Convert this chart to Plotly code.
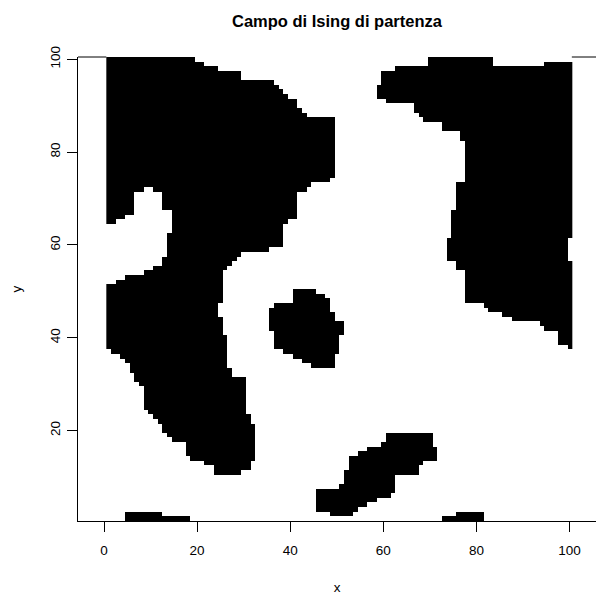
import numpy as np
import plotly.graph_objects as go

# Starting Ising configuration on a 100 x 100 lattice (+1 = black, -1 = white).
# Every cluster of +1 spins is listed as horizontal bands:
# (y_top, y_bottom, x_first, x_last), all inclusive lattice indices.
N_SIDE = 100

left_cluster = [
    (100, 100, 1, 19), (99, 99, 1, 21), (98, 98, 1, 24), (97, 96, 1, 29),
    (95, 95, 1, 36), (94, 94, 1, 37), (93, 93, 1, 38), (92, 92, 1, 39),
    (91, 90, 1, 41), (89, 89, 1, 42), (88, 88, 1, 43), (87, 75, 1, 49),
    (74, 74, 1, 48), (73, 73, 1, 44),
    (72, 72, 1, 8), (72, 72, 11, 43),
    (71, 68, 1, 6), (71, 68, 13, 41),
    (67, 67, 1, 6), (67, 67, 15, 41),
    (66, 66, 1, 4), (66, 66, 15, 41),
    (65, 65, 1, 2), (65, 65, 15, 39),
    (64, 63, 15, 38), (62, 60, 14, 38), (59, 59, 14, 35), (58, 58, 14, 29),
    (57, 57, 13, 28), (56, 56, 13, 27), (55, 55, 11, 26), (54, 54, 9, 25),
    (53, 53, 5, 25), (52, 52, 3, 25), (51, 48, 1, 25), (47, 45, 1, 24),
    (44, 41, 1, 25), (40, 38, 1, 26), (37, 37, 2, 26), (36, 36, 4, 26),
    (35, 35, 5, 26), (34, 34, 6, 26), (33, 33, 6, 27), (32, 32, 7, 27),
    (31, 31, 7, 30), (30, 30, 8, 30), (29, 25, 9, 30), (24, 24, 10, 30),
    (23, 23, 11, 31), (22, 22, 12, 31), (21, 20, 13, 32), (19, 19, 14, 32),
    (18, 18, 15, 32), (17, 15, 18, 32), (14, 14, 19, 32), (13, 13, 22, 31),
    (12, 12, 24, 31), (11, 11, 24, 29),
]

right_cluster = [
    (100, 100, 70, 83), (99, 99, 70, 83), (99, 99, 95, 100),
    (98, 98, 63, 100), (97, 95, 60, 100), (94, 92, 59, 100),
    (91, 91, 61, 100), (90, 89, 67, 100), (88, 88, 68, 100),
    (87, 87, 69, 100), (86, 85, 73, 100), (84, 83, 77, 100),
    (82, 74, 78, 100), (73, 68, 76, 100), (67, 62, 75, 100),
    (61, 57, 74, 99), (56, 55, 76, 100), (54, 48, 78, 100),
    (47, 47, 82, 100), (46, 46, 83, 100), (45, 45, 86, 100),
    (44, 44, 88, 100), (43, 43, 94, 100), (42, 42, 95, 100),
    (41, 39, 98, 100), (38, 38, 100, 100),
]

centre_cluster = [
    (50, 50, 41, 45), (49, 49, 41, 47), (48, 48, 41, 48), (47, 47, 37, 48),
    (46, 46, 36, 48), (45, 44, 36, 49), (43, 42, 36, 51), (41, 41, 37, 51),
    (40, 38, 37, 50), (37, 37, 39, 50), (36, 36, 41, 49), (35, 35, 43, 49),
    (34, 34, 45, 49),
]

lower_cluster = [
    (19, 18, 61, 70), (17, 17, 60, 70), (16, 16, 57, 71), (15, 15, 55, 71),
    (14, 14, 53, 71), (13, 13, 53, 68), (12, 12, 53, 67), (11, 11, 52, 67),
    (10, 9, 52, 62), (8, 8, 51, 62), (7, 7, 46, 62), (6, 6, 46, 61),
    (5, 5, 46, 58), (4, 4, 46, 56), (3, 3, 46, 54), (2, 2, 49, 53),
]

bottom_edge_bits = [
    (2, 2, 5, 12), (1, 1, 5, 18),
    (2, 2, 76, 81), (1, 1, 73, 81),
]

x_ticks = [0, 20, 40, 60, 80, 100]
y_ticks = [20, 40, 60, 80, 100]

# Build the spin matrix (rows follow y, columns follow x)
lattice = np.arange(1, N_SIDE + 1)
spin = -np.ones((N_SIDE, N_SIDE), dtype=int)
for y_top, y_bot, x_first, x_last in (left_cluster + right_cluster + centre_cluster
                                      + lower_cluster + bottom_edge_bits):
    spin[y_bot - 1:y_top, x_first - 1:x_last] = 1

fig = go.Figure(
    go.Heatmap(
        x=lattice, y=lattice, z=spin,
        colorscale=[[0, "white"], [1, "black"]], zmin=-1, zmax=1,
        showscale=False, hoverinfo="skip",
    )
)

FONT = "Liberation Sans, Arial, sans-serif"
TICK_SIZE = 13.5
axis_common = dict(
    ticks="outside", ticklen=10, tickwidth=1, tickcolor="black",
    showline=True, linecolor="black", linewidth=1,
    showgrid=False, zeroline=False, automargin=False,
    tickfont=dict(family=FONT, size=TICK_SIZE, color="black"),
    title_font=dict(family=FONT, size=TICK_SIZE, color="black"),
)

x_lo, x_hi = -5.585, 105.69
fig.update_layout(
    width=596, height=597,
    margin=dict(l=78, r=0, t=57, b=76),
    paper_bgcolor="white", plot_bgcolor="white",
    title=dict(
        text="<b>Campo di Ising di partenza</b>",
        font=dict(family=FONT, size=16.5, color="black"),
        x=0.5, xref="paper", xanchor="center",
        y=1 - 21 / 597, yref="container", yanchor="middle",
    ),
    xaxis=dict(range=[x_lo, x_hi], tickvals=x_ticks, ticklabelstandoff=7,
               title=dict(text="x", standoff=25), **axis_common),
    yaxis=dict(range=[0.5, 100.5], tickvals=y_ticks, tickangle=-90,
               ticklabelstandoff=2,
               title=dict(text="y", standoff=22), **axis_common),
    shapes=[
        # upper edge of the frame, visible only beside the lattice
        dict(type="line", xref="x", yref="paper", x0=x_lo, x1=0.5, y0=1, y1=1,
             line=dict(color="black", width=1)),
        dict(type="line", xref="x", yref="paper", x0=100.5, x1=x_hi, y0=1, y1=1,
             line=dict(color="black", width=1)),
    ],
)

fig.write_html("out.html")
